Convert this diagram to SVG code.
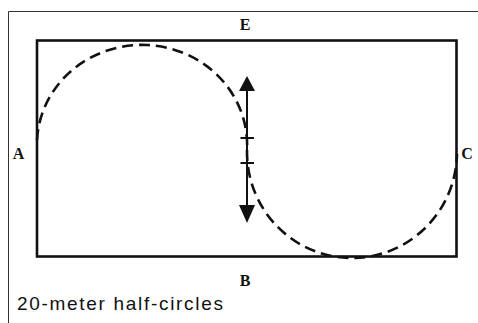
<svg xmlns="http://www.w3.org/2000/svg" width="478" height="323" viewBox="0 0 478 323">
<style>
.lbl{font-family:"Liberation Serif",serif;font-weight:bold;font-size:16px;fill:#111;text-anchor:middle}
.cap{font-family:"Liberation Sans",sans-serif;font-size:19px;fill:#111}
.dash{fill:none;stroke:#111;stroke-width:2.6;stroke-dasharray:11,6}
</style>
<rect width="478" height="323" fill="#fff"/>
<path d="M8.5,323 V11.5 H478" fill="none" stroke="#333" stroke-width="1"/>
<g id="arena"><rect x="37" y="40.5" width="419.5" height="216" fill="none" stroke="#111" stroke-width="2.6"/></g>
<g id="labels">
<text class="lbl" x="245" y="30">E</text>
<text class="lbl" x="18.5" y="159">A</text>
<text class="lbl" x="467" y="159">C</text>
<text class="lbl" x="245" y="286">B</text>
</g>
<g id="connectors">
<path class="dash" d="M37,140 A105,100 0 0 1 247,150"/>
<path class="dash" d="M247,150 A105,106 0 0 0 457,154"/>
<line x1="247" y1="88" x2="247" y2="207" stroke="#111" stroke-width="2"/>
<polygon points="247,76 239,91 255,91" fill="#111"/>
<polygon points="247,223 239,205 255,205" fill="#111"/>
<line x1="240.5" y1="138" x2="254" y2="138" stroke="#111" stroke-width="2"/>
<line x1="240.5" y1="163" x2="254" y2="163" stroke="#111" stroke-width="2"/>
</g>
<text class="cap" x="17" y="310" textLength="206" lengthAdjust="spacing">20-meter half-circles</text>
</svg>
